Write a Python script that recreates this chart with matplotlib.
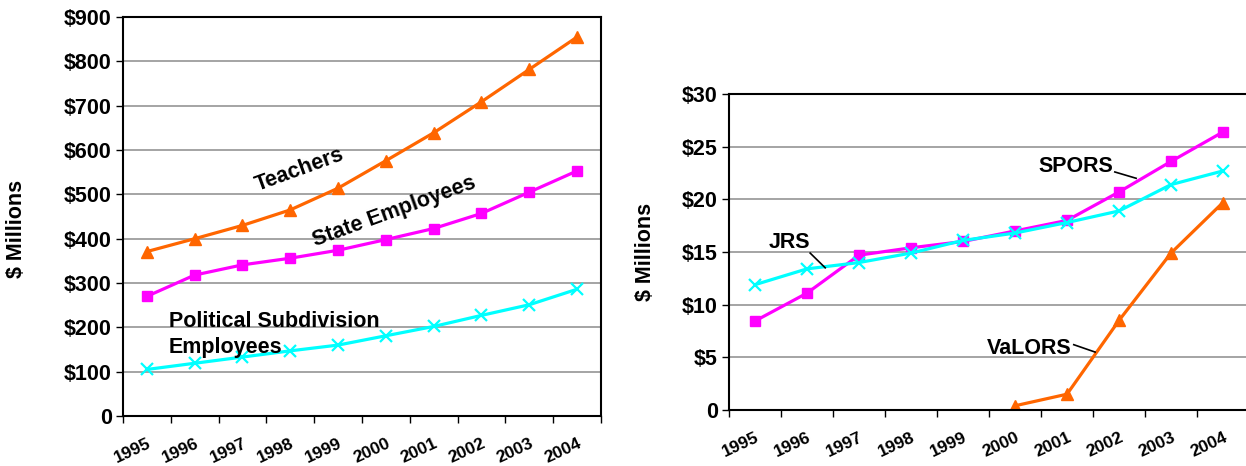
import numpy as np
import matplotlib
matplotlib.use("Agg")
import matplotlib.pyplot as plt

plt.rcParams['font.family'] = ['Liberation Sans', 'DejaVu Sans']
plt.rcParams['font.weight'] = 'bold'

years = ['1995', '1996', '1997', '1998', '1999', '2000', '2001', '2002', '2003', '2004']

# left chart, $ millions
teachers = [371, 400, 430, 465, 514, 576, 639, 709, 782, 855]
state_emp = [270, 318, 341, 356, 374, 398, 423, 457, 505, 553]
political = [105, 119, 133, 147, 160, 181, 202, 227, 251, 286]
left_ticks = [0, 100, 200, 300, 400, 500, 600, 700, 800, 900]
left_labels = ['0', '$100', '$200', '$300', '$400', '$500', '$600', '$700', '$800', '$900']

# right chart, $ millions
spors = [8.45, 11.1, 14.7, 15.4, 16.0, 17.0, 18.0, 20.7, 23.6, 26.4]
jrs = [11.9, 13.4, 14.0, 14.9, 16.1, 16.8, 17.8, 18.9, 21.4, 22.7]
valors_years = ['2000', '2001', '2002', '2003', '2004']
valors = [0.4, 1.5, 8.5, 14.9, 19.7]
right_ticks = [0, 5, 10, 15, 20, 25, 30]
right_labels = ['0', '$5', '$10', '$15', '$20', '$25', '$30']

ORANGE = '#FF6600'
MAGENTA = '#FF00FF'
CYAN = '#00FFFF'
FS = 15.5

fig = plt.figure(figsize=(12.46, 4.66), dpi=100)
ax1 = fig.add_axes([0.0987, 0.1073, 0.3836, 0.856])
ax2 = fig.add_axes([0.5851, 0.1202, 0.4173, 0.678])

xc = np.arange(len(years)) + 0.5
xv = np.array([years.index(y) for y in valors_years]) + 0.5


def style_axes(ax, yticks, ylabels, ymax):
    ax.set_xlim(0, 10)
    ax.set_ylim(0, ymax)
    ax.set_yticks(yticks)
    ax.set_yticklabels(ylabels, fontsize=FS, fontweight='bold')
    ax.yaxis.grid(True, color='#8c8c8c', lw=1.1)
    ax.set_axisbelow(True)
    ax.set_xticks(xc)
    ax.set_xticklabels(years, rotation=25, ha='right', rotation_mode='anchor',
                       fontsize=12.5, fontweight='bold')
    ax.set_xticks(np.arange(11), minor=True)
    ax.tick_params(axis='x', which='major', length=0, pad=14)
    ax.tick_params(axis='x', which='minor', length=5, width=1)
    ax.tick_params(axis='y', length=5, width=1, pad=3)
    for s in ax.spines.values():
        s.set_linewidth(1.5)
    ax.set_ylabel('$ Millions', fontsize=FS, fontweight='bold')


style_axes(ax1, left_ticks, left_labels, 900)
ax1.yaxis.set_label_coords(-0.2, 0.47)

ax1.plot(xc, teachers, color=ORANGE, lw=2.3, marker='^', ms=9)
ax1.plot(xc, state_emp, color=MAGENTA, lw=2.3, marker='s', ms=7)
ax1.plot(xc, political, color=CYAN, lw=2.3, marker='x', ms=9, mew=1.6)

ax1.text(3.7, 555, 'Teachers', fontsize=FS, fontweight='bold', rotation=20,
         ha='center', va='center')
ax1.text(5.67, 460, 'State Employees', fontsize=FS, fontweight='bold', rotation=20,
         ha='center', va='center')
ax1.text(0.96, 200, 'Political Subdivision', fontsize=FS, fontweight='bold',
         ha='left', va='baseline')
ax1.text(0.96, 143, 'Employees', fontsize=FS, fontweight='bold',
         ha='left', va='baseline')

style_axes(ax2, right_ticks, right_labels, 30)
ax2.yaxis.set_label_coords(-0.14, 0.5)

ax2.plot(xc, spors, color=MAGENTA, lw=2.3, marker='s', ms=7)
ax2.plot(xc, jrs, color=CYAN, lw=2.3, marker='x', ms=9, mew=1.6)
ax2.plot(xv, valors, color=ORANGE, lw=2.3, marker='^', ms=9)

ax2.text(1.17, 15.9, 'JRS', fontsize=FS, fontweight='bold', ha='center', va='center')
ax2.plot([1.56, 1.85], [14.9, 13.5], color='black', lw=1.2)
ax2.text(6.67, 23.1, 'SPORS', fontsize=FS, fontweight='bold', ha='center', va='center')
ax2.plot([7.42, 7.83], [22.6, 22.0], color='black', lw=1.2)
ax2.text(5.78, 5.8, 'VaLORS', fontsize=FS, fontweight='bold', ha='center', va='center')
ax2.plot([6.63, 7.04], [6.2, 5.5], color='black', lw=1.2)

fig.savefig('out.png', dpi=100)
